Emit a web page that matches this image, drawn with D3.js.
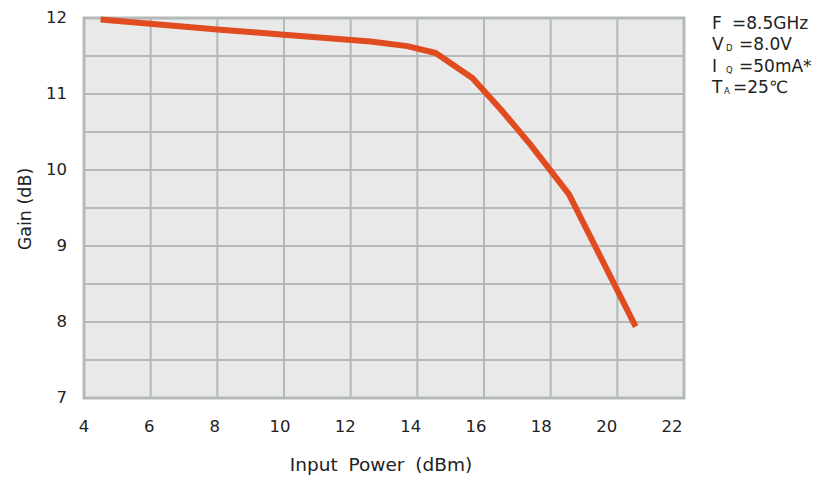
<!DOCTYPE html>
<html><head><meta charset="utf-8">
<script src="https://cdn.jsdelivr.net/npm/d3@7"></script>
<style>body{margin:0;background:#fff}svg{display:block;font-family:"DejaVu Sans",sans-serif}</style>
</head><body><svg id="c" width="815" height="478"></svg>
<script>
const inputPower = [4.5, 8, 10, 12.6, 13.7, 14.55, 15.65, 16.5, 17.4, 18.55, 20.55];
const gain       = [11.98, 11.85, 11.78, 11.69, 11.63, 11.54, 11.21, 10.80, 10.33, 9.68, 7.94];
const xTicks = [4, 6, 8, 10, 12, 14, 16, 18, 20, 22];
const yTicks = [7, 8, 9, 10, 11, 12];
const yGrid  = [7.5, 8, 8.5, 9, 9.5, 10, 10.5, 11, 11.5];
const legendSymbols = ["F", "V", "I", "T"];
const legendSubs    = ["", "D", "Q", "A"];
const legendValues  = ["=8.5GHz", "=8.0V", "=50mA*", "=25℃"];

const svg = d3.select("#c");
const L = 84, R = 684, T = 18, B = 398;
const x = d3.scaleLinear().domain([4, 22]).range([L, R]);
const xl = d3.scaleLinear().domain([4, 22]).range([L, 672]);
const y = d3.scaleLinear().domain([7, 12]).range([B, T]);
const grid = "#b3bab8";

svg.append("rect").attr("x", L).attr("y", T).attr("width", R - L).attr("height", B - T).attr("fill", "#e8e9e8");
svg.append("g").selectAll("line").data(xTicks.slice(1, -1)).join("line")
  .attr("x1", d => x(d)).attr("x2", d => x(d)).attr("y1", T).attr("y2", B)
  .attr("stroke", grid).attr("stroke-width", 2);
svg.append("g").selectAll("line").data(yGrid).join("line")
  .attr("x1", L).attr("x2", R).attr("y1", d => y(d)).attr("y2", d => y(d))
  .attr("stroke", grid).attr("stroke-width", 2);
svg.append("rect").attr("x", L).attr("y", T).attr("width", R - L).attr("height", B - T)
  .attr("fill", "none").attr("stroke", grid).attr("stroke-width", 3);

svg.append("path").datum(inputPower.map((v, i) => [v, gain[i]]))
  .attr("d", d3.line().x(d => x(d[0])).y(d => y(d[1])))
  .attr("fill", "none").attr("stroke", "#e04b1f").attr("stroke-width", 6).attr("stroke-linejoin", "round");

svg.append("g").selectAll("text").data(xTicks).join("text")
  .attr("x", d => xl(d)).attr("y", 432).attr("text-anchor", "middle")
  .attr("font-size", 16.5).attr("fill", "#222").text(d => d);
svg.append("g").selectAll("text").data(yTicks).join("text")
  .attr("x", 67).attr("y", d => y(d) + 5).attr("text-anchor", "end")
  .attr("font-size", 16.5).attr("fill", "#222").text(d => d);

svg.append("text").attr("x", 381).attr("y", 471).attr("text-anchor", "middle")
  .attr("font-size", 18.5).attr("fill", "#222").attr("word-spacing", 5).text("Input Power (dBm)");
svg.append("text").attr("transform", "translate(31,209) rotate(-90)").attr("text-anchor", "middle")
  .attr("font-size", 17.5).attr("fill", "#222").text("Gain (dB)");

const lg = svg.append("g").attr("font-size", 17).attr("fill", "#222");
const eqX = [732, 739, 739, 733];
const subX = [0, 726, 726, 724];
legendSymbols.forEach((s, i) => {
  const by = 29 + i * 21.4;
  lg.append("text").attr("x", 712).attr("y", by).text(s);
  if (legendSubs[i]) lg.append("text").attr("x", subX[i]).attr("y", by + 1).attr("font-size", 8.5).text(legendSubs[i]);
  lg.append("text").attr("x", eqX[i]).attr("y", by).text(legendValues[i]);
});
</script></body></html>
